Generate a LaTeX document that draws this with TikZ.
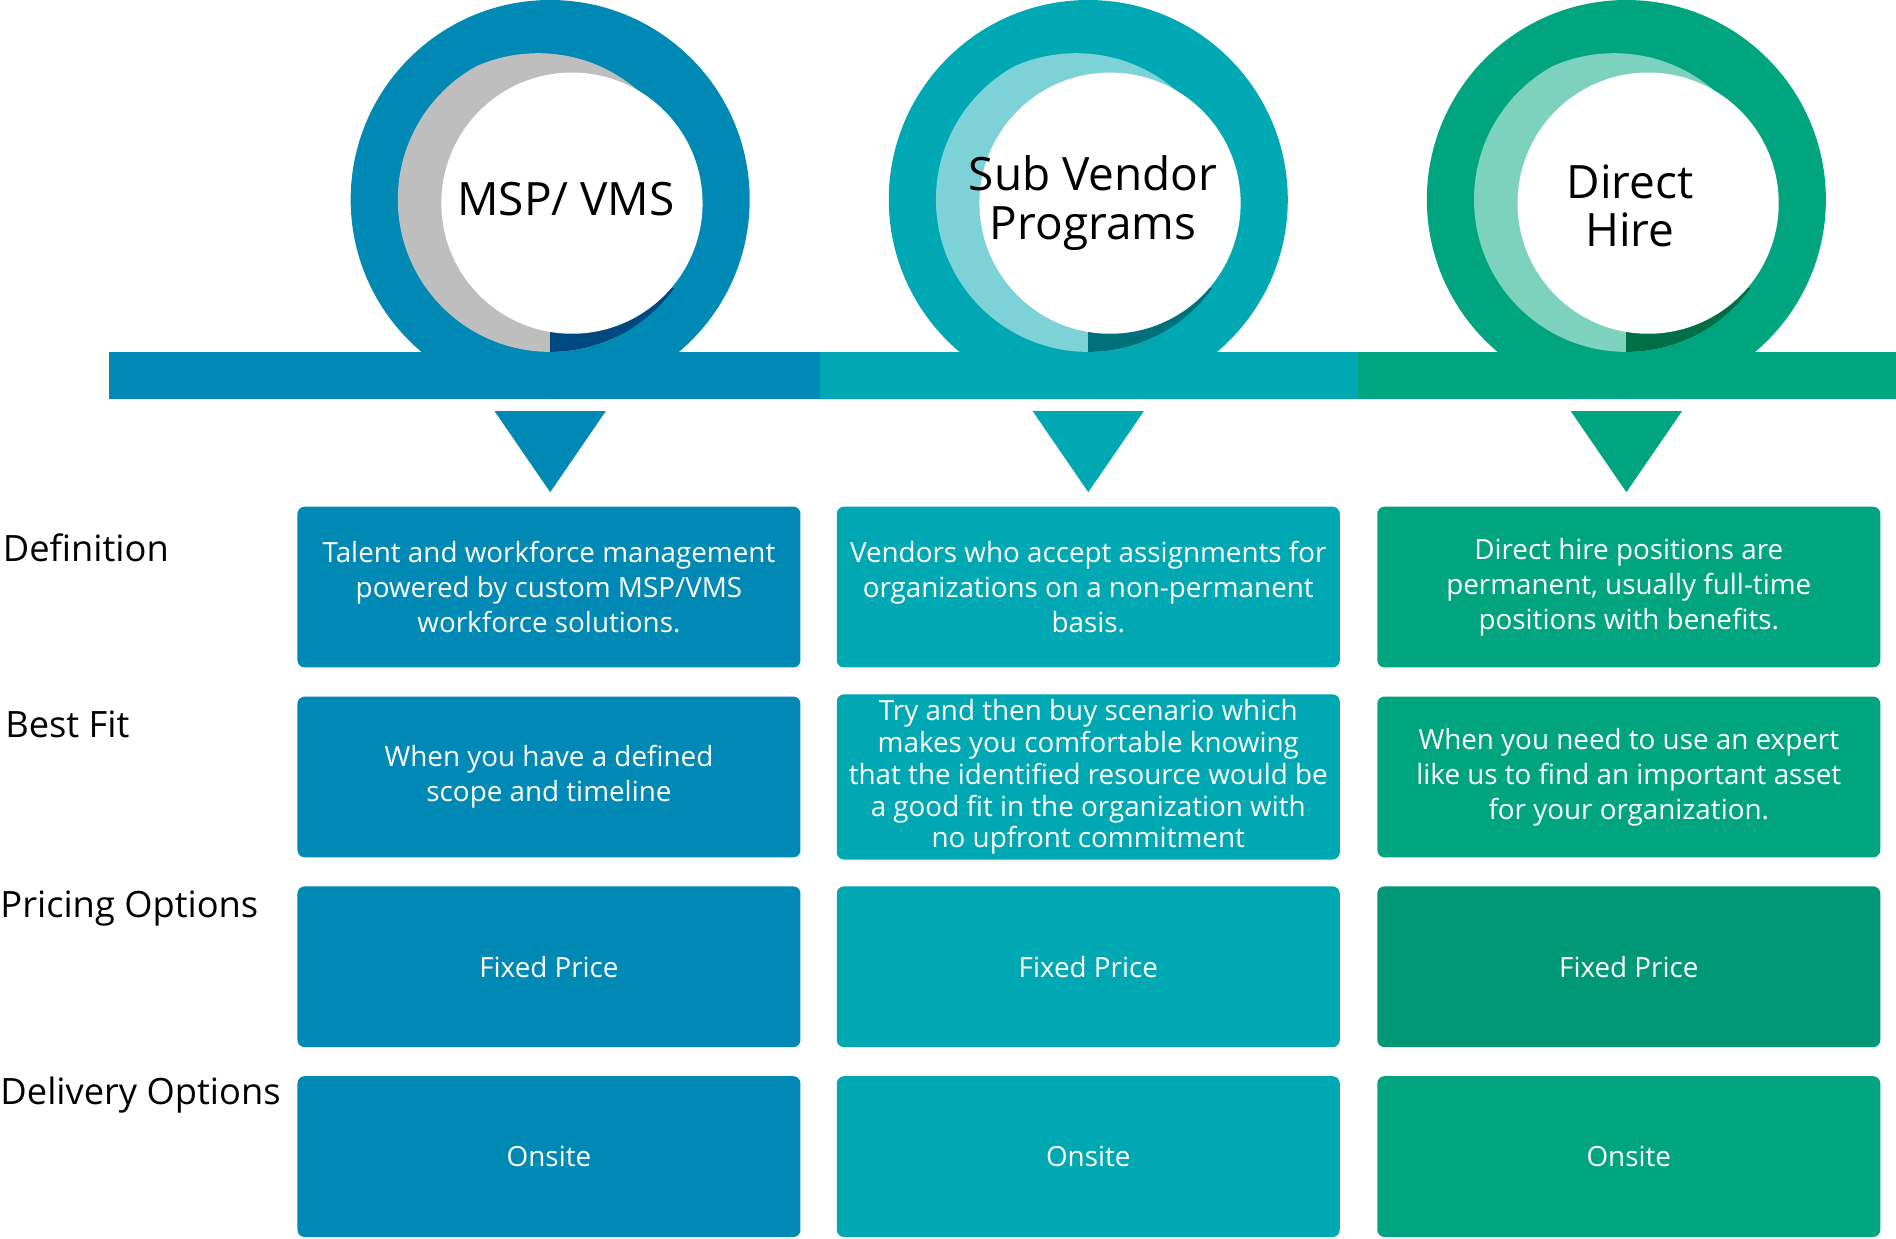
\documentclass[tikz,border=0pt]{standalone}
\usepackage{fontspec}
\setmainfont{Open Sans}
\definecolor{cA}{RGB}{0,137,180}
\definecolor{cB}{RGB}{0,168,180}
\definecolor{cC}{RGB}{0,165,128}
\definecolor{dA}{RGB}{0,72,128}
\definecolor{dB}{RGB}{0,112,122}
\definecolor{dC}{RGB}{0,110,70}
\definecolor{lA}{RGB}{190,190,190}
\definecolor{lB}{RGB}{125,210,215}
\definecolor{lC}{RGB}{125,210,190}
\begin{document}
\begin{tikzpicture}[x=0.5pt,y=-0.5pt,
  box/.style={fill=#1,rounded corners=3pt,minimum width=208pt,minimum height=66.5pt,text=white,align=center,font=\fontsize{11.5}{14.5}\selectfont,inner sep=2pt},
  lab/.style={anchor=west,font=\fontsize{15}{18}\selectfont,inner sep=0pt},
  ttl/.style={align=center,font=\fontsize{19}{20}\selectfont}]
\useasboundingbox (0,0) rectangle (1568,1024);
% bars
\fill[cA] (90,291) rectangle (678,330);
\fill[cB] (678,291) rectangle (1123,330);
\fill[cC] (1123,291) rectangle (1568,330);
\foreach \cx/\c/\d/\l/\n in {455/cA/dA/lA/a,900/cB/dB/lB/b,1345/cC/dC/lC/c}{
  \fill[\c] (\cx,165) circle (165);
  \begin{scope}
    \clip (\cx,165) circle (126);
    \fill[\l] (\cx-10,170) circle (126);
    \fill[\d] (\cx,238) rectangle (\cx+170,291);
    \fill[\c] (\cx-170,291) rectangle (\cx+170,340);
  \end{scope}
  \fill[white] (\cx+18,168) circle (108);
  \fill[\c] (\cx-46,340) -- (\cx+46,340) -- (\cx,407) -- cycle;
}
\node[ttl] (ta) at (468,165) {MSP/ VMS};
\node[ttl] (tb) at (904,168) {Sub Vendor\\Programs};
\node[ttl] (tc) at (1348,170) {Direct\\Hire};
% labels
\node[lab] (l1) at (2,453) {Definition};
\node[lab] (l2) at (4,599) {Best Fit};
\node[lab] (l3) at (0,751) {Pricing Options};
\node[lab] (l4) at (0,906) {Delivery Options};
% boxes
\node[box=cA] (a1) at (454,485.5) {Talent and workforce management\\powered by custom MSP/VMS\\workforce solutions.};
\node[box=cA] (a2) at (454,642.5) {When you have a defined\\scope and timeline};
\node[box=cA] (a3) at (454,799.5) {Fixed Price};
\node[box=cA] (a4) at (454,956.5) {Onsite};
\node[box=cB] (b1) at (900,485.5) {Vendors who accept assignments for\\organizations on a non-permanent\\basis.};
\node[box=cB,font=\fontsize{11.5}{13.2}\selectfont] (b2) at (900,642.5) {Try and then buy scenario which\\makes you comfortable knowing\\that the identified resource would be\\a good fit in the organization with\\no upfront commitment};
\node[box=cB] (b3) at (900,799.5) {Fixed Price};
\node[box=cB] (b4) at (900,956.5) {Onsite};
\node[box=cC] (c1) at (1347,485.5) {Direct hire positions are\\permanent, usually full-time\\positions with benefits.};
\node[box=cC] (c2) at (1347,642.5) {When you need to use an expert\\like us to find an important asset\\for your organization.};
\node[box={cC!92!black}] (c3) at (1347,799.5) {Fixed Price};
\node[box=cC] (c4) at (1347,956.5) {Onsite};
\end{tikzpicture}
\end{document}
